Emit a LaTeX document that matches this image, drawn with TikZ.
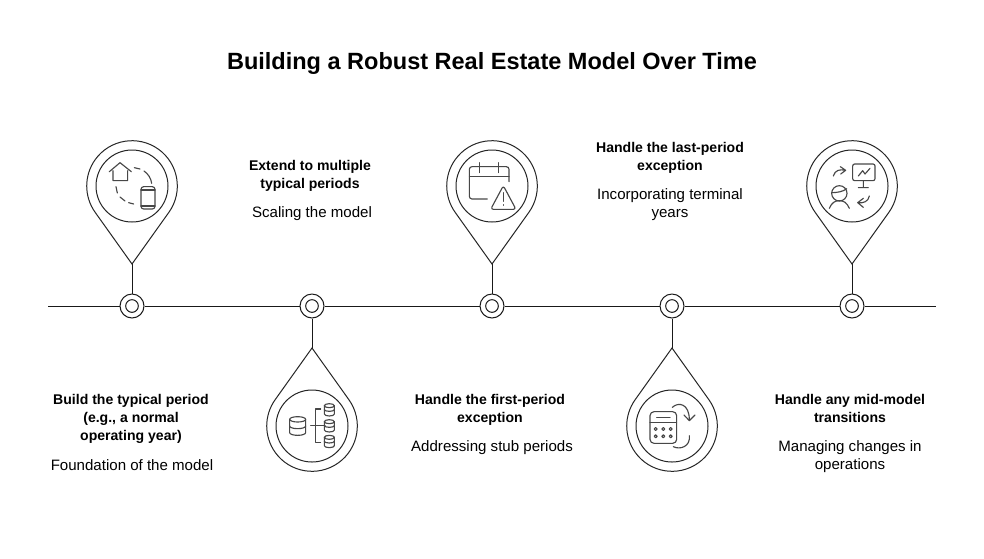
\documentclass[tikz,border=0pt]{standalone}
\usepackage{fontspec}
\setmainfont{Liberation Sans}
\newcommand{\pinup}[1]{\draw[pinline] (#1+36.9,212.3) arc[start angle=35.5,end angle=-215.5,radius=45.3] -- (#1,264) -- cycle;\draw[pinline] (#1,186) circle[radius=36];}
\newcommand{\pindown}[1]{\draw[pinline] (#1+36.9,399.7) arc[start angle=-35.5,end angle=215.5,radius=45.3] -- (#1,348) -- cycle;\draw[pinline] (#1,426) circle[radius=36];}
\tikzset{
  pinline/.style={draw=black!85,line width=0.75pt,line join=miter},
  axisline/.style={draw=black!90,line width=0.75pt},
  ringouter/.style={circle,draw=black!90,line width=0.75pt,minimum size=18pt,inner sep=0pt,fill=white},
  ringinner/.style={circle,draw=black!90,line width=0.75pt,minimum size=9.5pt,inner sep=0pt,fill=white},
  icon/.style={draw=black!72,line width=0.85pt,line cap=round,line join=round},
  heading/.style={align=center,inner sep=0pt,font=\fontsize{10.55}{13.5}\selectfont\bfseries},
  subtext/.style={align=center,inner sep=0pt,font=\fontsize{11.3}{13.5}\selectfont},
  titletext/.style={inner sep=0pt,font=\fontsize{17.63}{22}\selectfont\bfseries},
}
\begin{document}
\begin{tikzpicture}[x=0.75pt,y=-0.75pt]
\useasboundingbox[fill=white] (0,0) rectangle (984,558);
\node[titletext] (title) at (492,63.5) {Building a Robust Real Estate Model Over Time};
\coordinate (axL) at (48,306);
\coordinate (axR) at (936,306);
\coordinate (tip1) at (132,264);
\coordinate (tip2) at (312,348);
\coordinate (tip3) at (492,264);
\coordinate (tip4) at (672,348);
\coordinate (tip5) at (852,264);
\node[ringouter] (r1) at (132,306) {};
\node[ringouter] (r2) at (312,306) {};
\node[ringouter] (r3) at (492,306) {};
\node[ringouter] (r4) at (672,306) {};
\node[ringouter] (r5) at (852,306) {};
\foreach \n in {1,...,5}{\node[ringinner] (c\n) at (r\n) {};}
\draw[axisline] (axL) -- (r1) (r1) -- (r2) (r2) -- (r3) (r3) -- (r4) (r4) -- (r5) (r5) -- (axR);
\foreach \n in {1,...,5}{\draw[axisline] (r\n) -- (tip\n);}
\pinup{132}\pindown{312}\pinup{492}\pindown{672}\pinup{852}
% icon 1
\begin{scope}[shift={(70,120)},x=0.25pt,y=-0.25pt]
\draw[icon] (118,155) -- (150,128) -- (184,155) (129,152) -- (129,182) -- (173,182) -- (173,152);
\draw[icon] (193,143) -- (210,147) (222,153) .. controls (235,162) and (243,175) .. (245,190);
\draw[icon] (138,200) -- (142,219) (150,231) -- (165,243) (176,248) -- (191,252);
\draw[icon,rounded corners=2pt] (213,200) rectangle (255,267);
\draw[icon] (213,210) -- (255,210) (213,258) -- (255,258);
\end{scope}
% icon 2
\begin{scope}[shift={(250,290)},x=0.25pt,y=-0.25pt]
\draw[icon] (143,388) ellipse[x radius=24,y radius=8];
\draw[icon] (119,388) -- (119,428) arc[start angle=180,end angle=0,x radius=24,y radius=8] -- (167,388);
\draw[icon] (119,408) arc[start angle=180,end angle=0,x radius=24,y radius=8];
\draw[icon] (182,407) -- (225,407) (212,357) -- (197,357) -- (197,457) -- (212,457);
\foreach \t in {347,395,442}{
  \draw[icon] (238,\t) ellipse[x radius=15,y radius=6];
  \draw[icon] (223,\t) -- (223,\t+25) arc[start angle=180,end angle=0,x radius=15,y radius=6] -- (253,\t);
  \draw[icon] (223,\t+12) arc[start angle=180,end angle=0,x radius=15,y radius=5];
}
\end{scope}
% icon 3
\begin{scope}[shift={(430,120)},x=0.25pt,y=-0.25pt]
\draw[icon,rounded corners=2pt] (172,237) -- (118,237) -- (118,140) -- (237,140) -- (237,185);
\draw[icon] (118,170) -- (237,170) (148,128) -- (148,158) (205,128) -- (205,158);
\draw[icon,rounded corners=2pt] (220,197) -- (258,268) -- (182,268) -- cycle;
\draw[icon] (220,218) -- (220,244) (220,254) -- (220,256);
\end{scope}
% icon 4
\begin{scope}[shift={(610,290)},x=0.25pt,y=-0.25pt]
\draw[icon,rounded corners=3pt] (120,365) rectangle (200,460);
\draw[icon] (140,382) -- (180,382) (120,398) -- (200,398);
\foreach \dx in {137,160,182}{\foreach \dy in {417,439}{\draw[icon] (\dx,\dy) circle[radius=4.5];}}
\draw[icon] (187,352) .. controls (205,335) and (238,340) .. (238,390);
\draw[icon] (222,375) -- (238,392) -- (255,375);
\draw[icon] (238,437) .. controls (242,470) and (210,480) .. (190,470);
\end{scope}
% icon 5
\begin{scope}[shift={(790,120)},x=0.25pt,y=-0.25pt]
\draw[icon,rounded corners=1.5pt] (188,132) rectangle (255,182);
\draw[icon] (220,182) -- (220,203) (205,203) -- (235,203) (205,168) -- (218,152) -- (225,162) -- (240,145);
\draw[icon] (130,168) .. controls (135,150) and (150,147) .. (166,151) (151,140) -- (167,151) -- (152,162);
\draw[icon] (238,228) .. controls (235,245) and (220,250) .. (204,248) (220,235) -- (203,248) -- (220,262);
\draw[icon] (148,220) circle[radius=23];
\draw[icon] (125,218) .. controls (140,218) and (160,215) .. (170,206);
\draw[icon] (118,265) .. controls (125,248) and (135,242) .. (148,242) .. controls (161,242) and (171,248) .. (178,265);
\end{scope}
\node[heading] (h1) at (131,419) {Build the typical period\\(e.g., a normal\\operating year)};
\node[subtext] (s1) at (132,465) {Foundation of the model};
\node[heading] (h2) at (310,176) {Extend to multiple\\typical periods};
\node[subtext] (s2) at (312,214) {Scaling the model};
\node[heading] (h3) at (490,410) {Handle the first-period\\exception};
\node[subtext] (s3) at (492,448) {Addressing stub periods};
\node[heading] (h4) at (670,158) {Handle the last-period\\exception};
\node[subtext] (s4) at (670,205) {Incorporating terminal\\years};
\node[heading] (h5) at (850,408.5) {Handle any mid-model\\transitions};
\node[subtext] (s5) at (850,457) {Managing changes in\\operations};
\end{tikzpicture}
\end{document}
